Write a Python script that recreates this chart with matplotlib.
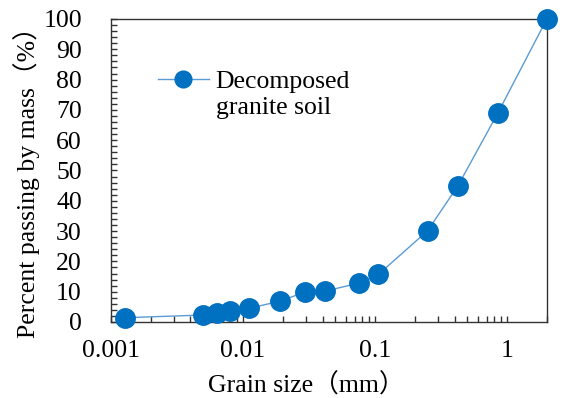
import matplotlib
matplotlib.use("Agg")
import matplotlib.pyplot as plt
from matplotlib.lines import Line2D
from matplotlib.ticker import MultipleLocator, LogLocator, FixedLocator, FixedFormatter

plt.rcParams['font.family'] = ['Liberation Serif', 'Noto Sans CJK SC']

grain_size = [0.00127, 0.0050, 0.0064, 0.0079, 0.0111, 0.0192, 0.0295, 0.042,
              0.075, 0.106, 0.25, 0.425, 0.85, 2.0]
passing = [1.4, 2.3, 3.1, 3.7, 4.5, 6.9, 9.9, 10.2, 12.8, 15.7, 30.1, 45.0, 68.9, 100.0]
x_ticks = [0.001, 0.01, 0.1, 1]
x_tick_labels = ['0.001', '0.01', '0.1', '1']
y_ticks = list(range(0, 101, 10))
legend_lines = ['Decomposed', 'granite soil']

FS = 18.5
W, H = 562, 398
fig = plt.figure(figsize=(W / 100, H / 100), dpi=100)
ax = fig.add_axes([0.1975, 0.191, 0.7755, 0.7613])

line, = ax.plot(grain_size, passing, '-', color='#5B9BD5', lw=1.0, zorder=3, clip_on=False,
                marker='o', markersize=14, markerfacecolor='#0070C0',
                markeredgecolor='#0070C0')

ax.set_xscale('log')
ax.set_xlim(0.001, 2)
ax.set_ylim(0, 100)
ax.xaxis.set_major_locator(FixedLocator(x_ticks))
ax.xaxis.set_major_formatter(FixedFormatter(x_tick_labels))
ax.xaxis.set_minor_locator(LogLocator(base=10, subs=range(2, 10), numticks=20))
ax.xaxis.set_minor_formatter(plt.NullFormatter())
ax.set_yticks(y_ticks)
ax.yaxis.set_minor_locator(MultipleLocator(2))

ax.tick_params(axis='both', which='both', direction='in', labelsize=FS,
               color='#333333', length=4.3, width=1.0)
ax.tick_params(axis='x', which='major', pad=13)
ax.tick_params(axis='y', which='major', pad=21)

for s in ax.spines.values():
    s.set_color('#333333')
    s.set_linewidth(1.0)

# x label: left edge ~208px, baseline ~393px from top
ax.set_xlabel('Grain size（mm）', fontsize=FS)
ax.xaxis.label.set(ha='left', va='baseline')
ax.xaxis.set_label_coords(0.2225, -0.2343)

# y label: starts ~338px from top, baseline ~35px from left
ax.set_ylabel('Percent passing by mass（%）', fontsize=FS)
ax.yaxis.label.set(ha='left', va='baseline', rotation_mode='anchor')
ax.yaxis.set_label_coords(-0.174, -0.053)

blank = Line2D([], [], linestyle='none', marker=None)
leg = ax.legend([line, blank], legend_lines, loc='upper left', bbox_to_anchor=(0.105, 0.852),
                frameon=False, fontsize=FS, handlelength=2.0, markerscale=0.86,
                borderaxespad=0, borderpad=0, handletextpad=0.26, labelspacing=0.1)

# align legend marker centre to target pixel position (183, 79 from top)
fig.canvas.draw()
r = fig.canvas.get_renderer()
hb = leg.legend_handles[0].get_window_extent(r)
cx, cy = (hb.x0 + hb.x1) / 2, (hb.y0 + hb.y1) / 2
abb = ax.get_window_extent(r)
tx, ty = 183.3, H - 79
leg.set_bbox_to_anchor((0.105 + (tx - cx) / abb.width, 0.852 + (ty - cy) / abb.height),
                       transform=ax.transAxes)

fig.savefig('out.png', dpi=100)
